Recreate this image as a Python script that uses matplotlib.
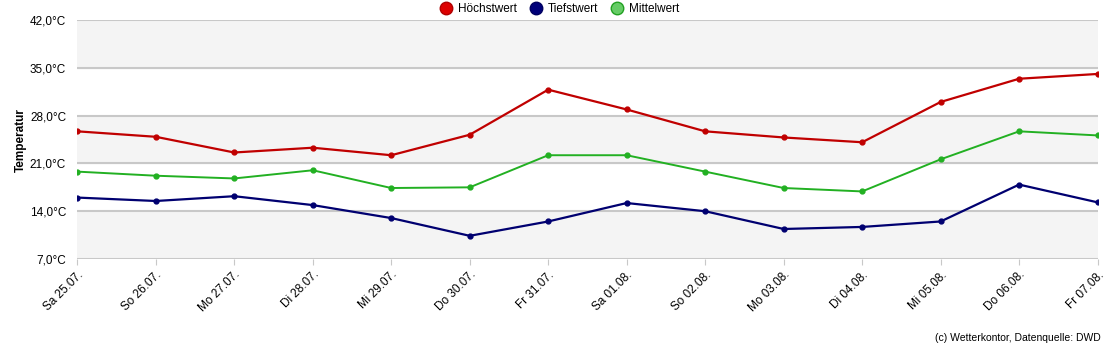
import matplotlib.pyplot as plt
from matplotlib.lines import Line2D

days = ['Sa 25.07.', 'So 26.07.', 'Mo 27.07.', 'Di 28.07.', 'Mi 29.07.', 'Do 30.07.', 'Fr 31.07.',
        'Sa 01.08.', 'So 02.08.', 'Mo 03.08.', 'Di 04.08.', 'Mi 05.08.', 'Do 06.08.', 'Fr 07.08.']
hoechst = [25.7, 24.9, 22.6, 23.3, 22.2, 25.2, 31.8, 28.9, 25.7, 24.8, 24.1, 30.0, 33.4, 34.1]
tiefst = [16.0, 15.5, 16.2, 14.9, 13.0, 10.4, 12.5, 15.2, 14.0, 11.4, 11.7, 12.5, 17.9, 15.3]
mittel = [19.8, 19.2, 18.8, 20.0, 17.4, 17.5, 22.2, 22.2, 19.8, 17.4, 16.9, 21.6, 25.7, 25.1]
yticks = [7, 14, 21, 28, 35, 42]

plt.rcParams['font.family'] = ['Liberation Sans', 'DejaVu Sans']

fig = plt.figure(figsize=(11.2, 3.51), dpi=100)
ax = fig.add_axes([0.069, 0.262, 0.911, 0.681])

x = list(range(len(days)))

# alternating bands
for i in range(len(yticks) - 1):
    if i % 2 == 0:
        ax.axhspan(yticks[i], yticks[i + 1], color='#f4f4f4', zorder=0)
for t in yticks:
    ax.axhline(t, color='#c8c8c8', lw=1.5, zorder=1)

ax.plot(x, hoechst, color='#c00000', lw=1.6, marker='o', ms=3.5, zorder=3)
ax.plot(x, mittel, color='#22b022', lw=1.4, marker='o', ms=3.5, zorder=3)
ax.plot(x, tiefst, color='#000070', lw=1.6, marker='o', ms=3.5, zorder=3)

ax.set_xlim(0, len(days) - 1)
ax.set_ylim(7, 42)
ax.set_yticks(yticks)
ax.set_yticklabels([f'{t},0°C' for t in yticks], fontsize=8.5)
ax.set_xticks(x)
ax.set_xticklabels(days, rotation=45, ha='right', rotation_mode='anchor', fontsize=8.5)
ax.tick_params(axis='y', length=0, pad=8)
ax.tick_params(axis='x', length=4, color='#c8c8c8', pad=3)
for s in ax.spines.values():
    s.set_visible(False)

fig.text(0.019, 0.6, 'Temperatur', rotation=90, fontsize=8.5, fontweight='bold', ha='center', va='center')

handles = [
    Line2D([], [], ls='', marker='o', ms=9, mfc='#dd0000', mec='#b00000'),
    Line2D([], [], ls='', marker='o', ms=9, mfc='#00007a', mec='#000060'),
    Line2D([], [], ls='', marker='o', ms=9, mfc='#66cc66', mec='#22a022'),
]
fig.legend(handles, ['Höchstwert', 'Tiefstwert', 'Mittelwert'], loc='center', bbox_to_anchor=(0.497, 0.975),
           ncol=3, frameon=False, fontsize=8.5, handletextpad=0.0, columnspacing=0.6, borderaxespad=0)

fig.text(0.983, 0.022, '(c) Wetterkontor, Datenquelle: DWD', ha='right', va='bottom', fontsize=7.5)

fig.savefig('out.png', dpi=100)
